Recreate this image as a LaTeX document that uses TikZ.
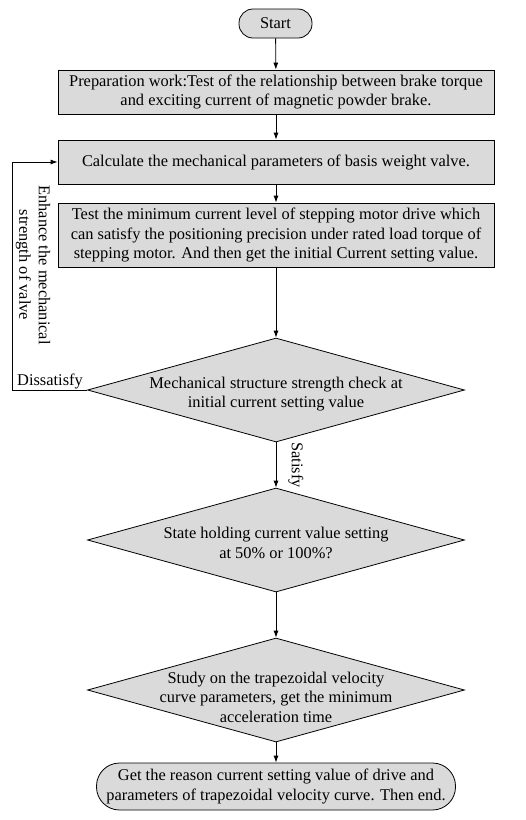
\documentclass[tikz,border=0pt]{standalone}
\usepackage{fontspec}
\setmainfont{Liberation Serif}
\usetikzlibrary{shapes.geometric,arrows.meta}
\definecolor{boxgray}{RGB}{218,218,218}
\begin{document}
\begin{tikzpicture}[x=1pt,y=-1pt,
  every node/.style={font=\fontsize{16.4}{19.6}\selectfont, text=black},
  box/.style={draw=black, fill=boxgray, line width=0.8pt, minimum width=436pt, align=center, inner sep=0pt},
  term/.style={draw=black, fill=boxgray, line width=0.8pt, align=center, inner sep=0pt},
  dia/.style={diamond, draw=black, fill=boxgray, line width=0.8pt, inner sep=0pt, minimum width=377pt, minimum height=104pt},
  txt/.style={align=center, inner sep=0pt},
  arr/.style={line width=0.8pt, -{Latex[length=7pt,width=5pt]}},
  lbl/.style={inner sep=0pt}
]
\useasboundingbox (0,0) rectangle (526,820);
\node[term, minimum width=73pt, minimum height=29pt, rounded corners=14pt] (start) at (275.5,23.5) {Start};
\node[box, minimum height=44pt] (b1) at (276,92) {Preparation work:Test of the relationship between brake torque\\and exciting current of magnetic powder brake.};
\node[box, minimum height=44pt] (b2) at (276,162) {Calculate the mechanical parameters of basis weight valve.};
\node[box, minimum height=64pt] (b3) at (276,235) {Test the minimum current level of stepping motor drive which\\can satisfy the positioning precision under rated load torque of\\stepping motor. And then get the initial Current setting value.};
\node[dia] (d1) at (276,390) {};
\node[txt] (t1) at (276,394) {Mechanical structure strength check at\\initial current setting value};
\node[dia] (d2) at (276,540) {};
\node[txt] (t2) at (276,543) {State holding current value setting\\at 50\% or 100\%?};
\node[dia] (d3) at (276,690) {};
\node[txt] (t3) at (276,697) {Study on the trapezoidal velocity\\curve parameters, get the minimum\\acceleration time};
\node[term, minimum width=359pt, minimum height=47pt, rounded corners=23pt] (end) at (276,786.5) {Get the reason current setting value of drive and\\parameters of trapezoidal velocity curve. Then end.};

\draw[arr] (start) -- (b1);
\draw[arr] (b1) -- (b2);
\draw[arr] (b2) -- (b3);
\draw[arr] (b3) -- (d1);
\draw[arr] (d1) -- (d2);
\draw[arr] (d2) -- (d3);
\draw[arr] (d3) -- (end);
\coordinate (fb) at (12,390);
\draw[arr] (d1.west) -- (fb) |- (b2.west);

\node[lbl] (dis) at (50,381) {Dissatisfy};
\node[lbl, rotate=-90] (sat) at (296,465) {Satisfy};
\node[lbl, rotate=-90, align=center] (enh) at (33,265) {Enhance the mechanical\\strength of valve};
\end{tikzpicture}
\end{document}
